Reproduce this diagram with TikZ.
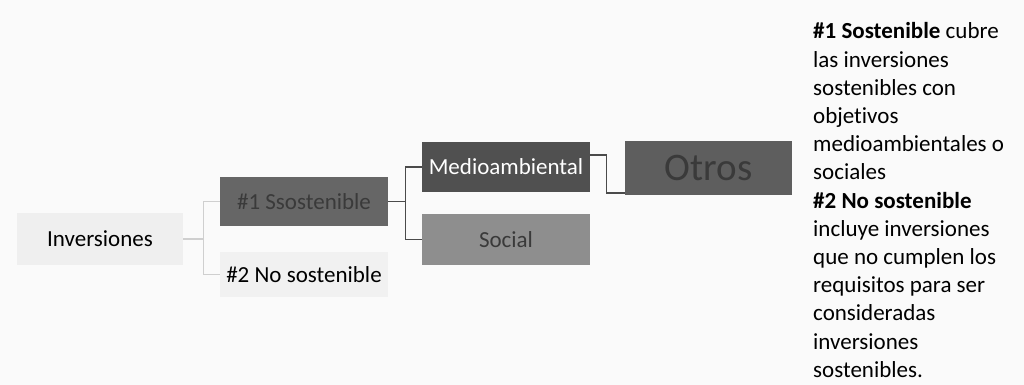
\documentclass[tikz,border=0pt]{standalone}
\usepackage{fontspec}
\setmainfont[RawFeature={-liga;-clig;-calt;-dlig}]{Carlito}
\usetikzlibrary{calc}
\definecolor{bgc}{HTML}{FAFAFA}
\definecolor{lightbox}{HTML}{EFEFEF}
\definecolor{darkbox}{HTML}{666666}
\definecolor{medbox}{HTML}{505050}
\definecolor{socbox}{HTML}{8E8E8E}
\definecolor{otrbox}{HTML}{5E5E5E}
\definecolor{dtext}{HTML}{3A3A3A}
\definecolor{lightline}{HTML}{CFCFCF}
\definecolor{darkline}{HTML}{4A4A4A}
\tikzset{
  box/.style={rectangle, inner sep=0pt, minimum width=168pt, minimum height=50pt,
    font=\fontsize{23}{28}\selectfont},
  lbox/.style={box, fill=lightbox, text=black},
  connl/.style={draw=lightline, line width=1.2pt},
  connd/.style={draw=darkline, line width=1.3pt},
}
\begin{document}
\begin{tikzpicture}[x=1pt,y=-1pt]
\fill[bgc] (0,0) rectangle (1024,385);
\useasboundingbox (0,0) rectangle (1024,385);

\node[lbox, minimum width=166pt, minimum height=52pt] (inv) at (100,239) {Inversiones};
\node[box, fill=darkbox, text=dtext, minimum height=49pt] (s1) at (304,201.5) {\#1 Ssostenible};
\node[lbox, minimum height=45pt, fill=lightbox!80!bgc] (s2) at (304,274.5) {\#2 No sostenible};
\node[box, fill=medbox, text=white] (med) at (506,167) {Medioambiental};
\node[box, fill=socbox, text=dtext, minimum height=51pt] (soc) at (506,239.5) {Social};
\node[box, fill=otrbox, text=dtext, minimum width=167pt, minimum height=54pt,
  font=\fontsize{39}{44}\selectfont] (otr) at (708.5,168) {Otros};

\draw[connl] (inv.east) -- ++(20,0) |- (s1.west);
\draw[connl] (inv.east) -- ++(20,0) |- (s2.west);
\draw[connd] (s1.east) -- ++(17,0) |- (med.west);
\draw[connd] (s1.east) -- ++(17,0) |- (soc.west);
\draw[connd] ($(med.east)+(0,-12)$) -- ++(16,0) |- ($(otr.west)+(0,25)$);

\node[anchor=base west, inner sep=0pt] (txt) at (813,39) {\parbox[t]{215pt}{\fontsize{23}{28.2}\selectfont\raggedright
\textbf{\#1 Sostenible} cubre\\
las inversiones\\
sostenibles con\\
objetivos\\
medioambientales o\\
sociales\\
\textbf{\#2 No sostenible}\\
incluye inversiones\\
que no cumplen los\\
requisitos para ser\\
consideradas\\
inversiones\\
sostenibles.}};
\end{tikzpicture}
\end{document}
